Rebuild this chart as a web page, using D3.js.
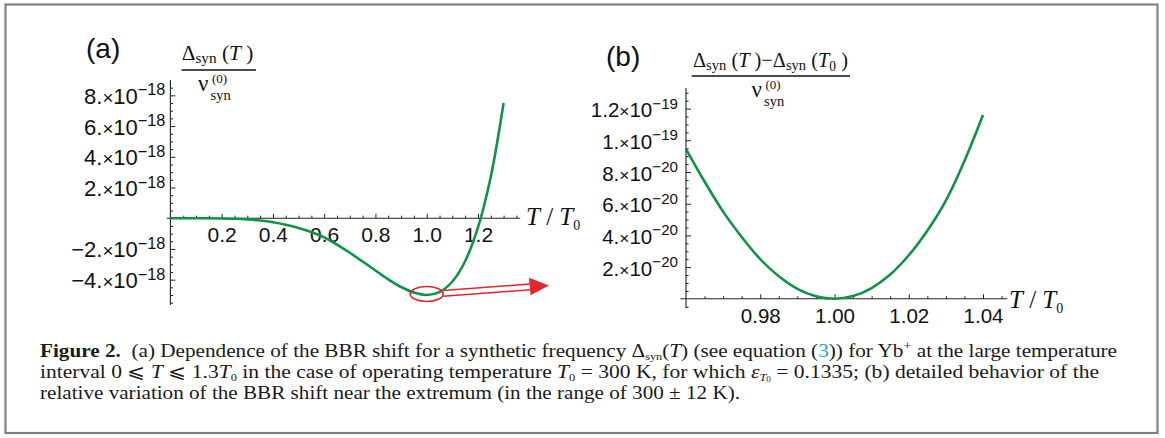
<!DOCTYPE html>
<html><head><meta charset="utf-8">
<script src="https://cdn.jsdelivr.net/npm/d3@7/dist/d3.min.js"></script>
<style>body{margin:0;background:#fff}svg{display:block}</style>
</head><body>
<svg id="c" width="1165" height="438"></svg>
<script>
// ---------- data ----------
const unitA = 1e-18;
const tA = [0,0.05,0.1,0.15,0.2,0.25,0.3,0.35,0.4,0.45,0.5,0.55,0.6,0.65,0.7,0.75,0.8,0.85,0.9,0.95,1.0,1.05,1.1,1.15,1.2,1.25,1.3];
const vA = [0,0,-0.001,-0.005,-0.015,-0.035,-0.075,-0.15,-0.26,-0.42,-0.63,-0.9,-1.25,-1.72,-2.25,-2.82,-3.4,-3.98,-4.48,-4.84,-5.0,-4.81,-4.12,-2.8,-0.6,2.7,7.5];
const unitB = 1e-20;
const tB = [0.96,0.965,0.97,0.975,0.98,0.985,0.99,0.995,1.0,1.005,1.01,1.015,1.02,1.025,1.03,1.035,1.04];
const vB = [9.45,7.4,5.5,3.9,2.5,1.42,0.63,0.16,0,0.17,0.68,1.53,2.75,4.3,6.2,8.7,11.6];

const xTicksA = [0.2,0.4,0.6,0.8,1.0,1.2];
const xLabelsA = ["0.2","0.4","0.6","0.8","1.0","1.2"];
const yTicksA = [8,6,4,2,-2,-4];
const yMantA = ["8.","6.","4.","2.","\u22122.","\u22124."];
const yExpA = ["\u221218","\u221218","\u221218","\u221218","\u221218","\u221218"];
const xTicksB = [0.98,1.00,1.02,1.04];
const xLabelsB = ["0.98","1.00","1.02","1.04"];
const yTicksB = [12,10,8,6,4,2];
const yMantB = ["1.2","1.","8.","6.","4.","2."];
const yExpB = ["\u221219","\u221219","\u221220","\u221220","\u221220","\u221220"];

// ---------- setup ----------
const svg = d3.select("#c");
const SANS = "'Liberation Sans', Arial, sans-serif";
const SERIF = "'Liberation Serif', 'Times New Roman', serif";
const GREEN = "#0f9445", RED = "#e3262d", AX = "#222";

svg.append("rect").attr("x",5.5).attr("y",4.5).attr("width",1152).attr("height",428.5)
  .attr("fill","#fff").attr("stroke","#808080").attr("stroke-width",2.2);

function panel(o){
  const g = svg.append("g");
  const x = o.x, y = o.y;
  g.append("line").attr("x1",x(o.xExt[0])).attr("x2",x(o.xExt[1])).attr("y1",y(0)).attr("y2",y(0))
    .attr("stroke",AX).attr("stroke-width",1.1);
  g.append("line").attr("x1",x(o.x0)).attr("x2",x(o.x0)).attr("y1",y(o.yExt[0])).attr("y2",y(o.yExt[1]))
    .attr("stroke",AX).attr("stroke-width",1.1);
  const xMaj = g.append("g").attr("transform",`translate(0,${y(0)})`)
    .call(d3.axisBottom(x).tickValues(o.xTicks).tickSizeInner(-4.5).tickSizeOuter(0).tickPadding(o.xPad)
      .tickFormat((d,i)=>o.xLabels[i]));
  xMaj.select(".domain").remove();
  xMaj.selectAll("line").attr("stroke",AX);
  xMaj.selectAll("text").attr("font-family",SANS).attr("font-size",o.fsx).attr("fill","#111");
  const xMin = g.append("g").attr("transform",`translate(0,${y(0)})`)
    .call(d3.axisBottom(x).tickValues(o.xMinor).tickSizeInner(-2.6).tickSizeOuter(0).tickFormat(""));
  xMin.select(".domain").remove();
  xMin.selectAll("line").attr("stroke",AX);
  const yMaj = g.append("g").attr("transform",`translate(${x(o.x0)},0)`)
    .call(d3.axisLeft(y).tickValues(o.yTicks.map(v=>v*o.unit)).tickSizeInner(-5).tickSizeOuter(0).tickFormat(""));
  yMaj.select(".domain").remove();
  yMaj.selectAll("line").attr("stroke",AX);
  yMaj.selectAll(".tick").each(function(d,i){
    const t = d3.select(this).append("text").attr("x",-o.yGap).attr("y",8).attr("text-anchor","end")
      .attr("font-family",SANS).attr("font-size",o.fs).attr("fill","#111");
    t.append("tspan").text(o.yMant[i]);
    t.append("tspan").text("\u00d7").attr("font-size",o.fs*0.85);
    t.append("tspan").text("10");
    t.append("tspan").text(o.yExp[i]).attr("font-size",o.fs*0.74).attr("dy",-8.5);
  });
  const yMin = g.append("g").attr("transform",`translate(${x(o.x0)},0)`)
    .call(d3.axisLeft(y).tickValues(o.yMinor.map(v=>v*o.unit)).tickSizeInner(-2.6).tickSizeOuter(0).tickFormat(""));
  yMin.select(".domain").remove();
  yMin.selectAll("line").attr("stroke",AX);
  const data = o.t.map((t,i)=>({t, v:o.v[i]*o.unit}));
  g.append("path").datum(data)
    .attr("d", d3.line().x(d=>x(d.t)).y(d=>y(d.v)).curve(d3.curveCatmullRom.alpha(0.5)))
    .attr("fill","none").attr("stroke",GREEN).attr("stroke-width",2.6);
  const lab = g.append("text").attr("x",o.tlx).attr("y",y(0)+o.tldy).attr("font-family",SERIF)
    .attr("font-size",25).attr("fill","#111");
  lab.append("tspan").text("T").attr("font-style","italic");
  lab.append("tspan").text(" / ");
  lab.append("tspan").text("T").attr("font-style","italic");
  lab.append("tspan").text("0").attr("font-size",14).attr("dy",5);
  return g;
}

// ---------- panel (a) ----------
const xA = d3.scaleLinear().domain([0,1.3]).range([170.4,503.6]);
const yA = d3.scaleLinear().domain([-5.65e-18,9.0e-18]).range([305,80]);
const gA = panel({
  x:xA, y:yA, x0:0, xExt:[-0.014,1.365], yExt:[-5.65e-18,9.0e-18],
  xTicks:xTicksA, xLabels:xLabelsA,
  xMinor:d3.range(1,28).filter(i=>i%4!==0).map(i=>i*0.05),
  yTicks:yTicksA, yMant:yMantA, yExp:yExpA, unit:unitA,
  yMinor:d3.range(-11,18).filter(i=>i%4!==0).map(i=>i*0.5),
  t:tA, v:vA, fs:22, fsx:21, xPad:8.6, yGap:5, tlx:526, tldy:7
});

const ex = xA(1.0), ey = yA(-5.0e-18)-1;
gA.append("ellipse").attr("cx",ex).attr("cy",ey).attr("rx",16.5).attr("ry",7.5)
  .attr("fill","none").attr("stroke",RED).attr("stroke-width",1.6);
gA.append("line").attr("x1",ex+16.5).attr("y1",ey-3.5).attr("x2",530).attr("y2",284)
  .attr("stroke",RED).attr("stroke-width",1.5);
gA.append("line").attr("x1",ex+16.5).attr("y1",ey+2.2).attr("x2",530).attr("y2",289.8)
  .attr("stroke",RED).attr("stroke-width",1.5);
gA.append("path").attr("d","M529,277.8 L549,285.6 L530.5,295.2 Z").attr("fill",RED);

// ---------- panel (b) ----------
const xB = d3.scaleLinear().domain([0.96,1.04]).range([686,983]);
const yB = d3.scaleLinear().domain([-0.58e-20,13.3e-20]).range([308,88]);
panel({
  x:xB, y:yB, x0:0.96, xExt:[0.9585,1.0465], yExt:[-0.58e-20,13.3e-20],
  xTicks:xTicksB, xLabels:xLabelsB,
  xMinor:d3.range(193,210).filter(i=>i%4!==0).map(i=>i*0.005),
  yTicks:yTicksB, yMant:yMantB, yExp:yExpB, unit:unitB,
  yMinor:d3.range(-1,27).filter(i=>i%4!==0 && i!==0).map(i=>i*0.5),
  t:tB, v:vB, fs:20.5, fsx:20.5, xPad:9.5, yGap:8, tlx:1009, tldy:9.5
});

// ---------- panel labels & fractions ----------
svg.append("text").attr("x",86).attr("y",58).attr("font-family",SANS).attr("font-size",28).attr("fill","#111").text("(a)");
svg.append("text").attr("x",606).attr("y",66).attr("font-family",SANS).attr("font-size",28).attr("fill","#111").text("(b)");

function numer(x, yb, tl){
  return svg.append("text").attr("x",x).attr("y",yb).attr("font-family",SERIF).attr("font-size",21).attr("fill","#111")
    .attr("textLength",tl).attr("lengthAdjust","spacingAndGlyphs");
}
function denom(x, yb){
  svg.append("text").attr("x",x).attr("y",yb).attr("font-family",SERIF).attr("font-size",23).attr("fill","#111").text("\u03bd");
  svg.append("text").attr("x",x+12.5).attr("y",yb+8.5).attr("font-family",SERIF).attr("font-size",14.5).attr("fill","#111").text("syn");
  svg.append("text").attr("x",x+14).attr("y",yb-8).attr("font-family",SERIF).attr("font-size",13).attr("fill","#111").text("(0)");
}
{
  const n = numer(181.7,60,71.6);
  n.append("tspan").text("\u0394");
  n.append("tspan").text("syn").attr("font-size",15).attr("dy",3);
  n.append("tspan").text(" (").attr("dy",-3);
  n.append("tspan").text("T").attr("font-style","italic");
  n.append("tspan").text(" )");
  svg.append("line").attr("x1",181.5).attr("x2",256).attr("y1",70).attr("y2",70).attr("stroke","#111").attr("stroke-width",1.5);
  denom(198,91);
}
{
  const n = numer(693,67,155);
  n.append("tspan").text("\u0394");
  n.append("tspan").text("syn").attr("font-size",15).attr("dy",3);
  n.append("tspan").text(" (").attr("dy",-3);
  n.append("tspan").text("T").attr("font-style","italic");
  n.append("tspan").text(" )\u2212\u0394");
  n.append("tspan").text("syn").attr("font-size",15).attr("dy",3);
  n.append("tspan").text(" (").attr("dy",-3);
  n.append("tspan").text("T").attr("font-style","italic");
  n.append("tspan").text("0").attr("font-size",14).attr("dy",4);
  n.append("tspan").text(" )").attr("dy",-4);
  svg.append("line").attr("x1",691.7).attr("x2",850).attr("y1",76).attr("y2",76).attr("stroke","#111").attr("stroke-width",1.5);
  denom(751.5,97);
}

// ---------- caption ----------
const CAP = SERIF + ", 'DejaVu Serif'";
function capLine(yb, len){
  return svg.append("text").attr("x",40).attr("y",yb).attr("font-family",CAP).attr("font-size",19)
    .attr("fill","#1a1a1a").attr("textLength",len).attr("lengthAdjust","spacingAndGlyphs");
}
{
  const l = capLine(357,1077);
  l.append("tspan").text("Figure 2.").attr("font-weight","bold");
  l.append("tspan").text("\u00a0\u00a0(a) Dependence of the BBR shift for a synthetic frequency \u0394");
  l.append("tspan").text("syn").attr("font-size",11).attr("dy",2.5);
  l.append("tspan").text("(").attr("dy",-2.5);
  l.append("tspan").text("T").attr("font-style","italic");
  l.append("tspan").text(") (see equation (");
  l.append("tspan").text("3").attr("fill","#2a9fd6");
  l.append("tspan").text(")) for Yb");
  l.append("tspan").text("+").attr("font-size",13).attr("dy",-7);
  l.append("tspan").text(" at the large temperature").attr("dy",7);
}
{
  const l = capLine(378,1059);
  l.append("tspan").text("interval 0 \u2a7d ");
  l.append("tspan").text("T").attr("font-style","italic");
  l.append("tspan").text(" \u2a7d 1.3");
  l.append("tspan").text("T").attr("font-style","italic");
  l.append("tspan").text("0").attr("font-size",11).attr("dy",2.5);
  l.append("tspan").text(" in the case of operating temperature ").attr("dy",-2.5);
  l.append("tspan").text("T").attr("font-style","italic");
  l.append("tspan").text("0").attr("font-size",11).attr("dy",2.5);
  l.append("tspan").text(" = 300 K, for which ").attr("dy",-2.5);
  l.append("tspan").text("\u03b5").attr("font-style","italic");
  l.append("tspan").text("T").attr("font-style","italic").attr("font-size",11).attr("dy",2.5);
  l.append("tspan").text("0").attr("font-size",8).attr("dy",1);
  l.append("tspan").text(" = 0.1335; (b) detailed behavior of the").attr("dy",-3.5);
}
{
  const l = capLine(399,700);
  l.append("tspan").text("relative variation of the BBR shift near the extremum (in the range of 300 \u00b1 12 K).");
}
</script>
</body></html>
